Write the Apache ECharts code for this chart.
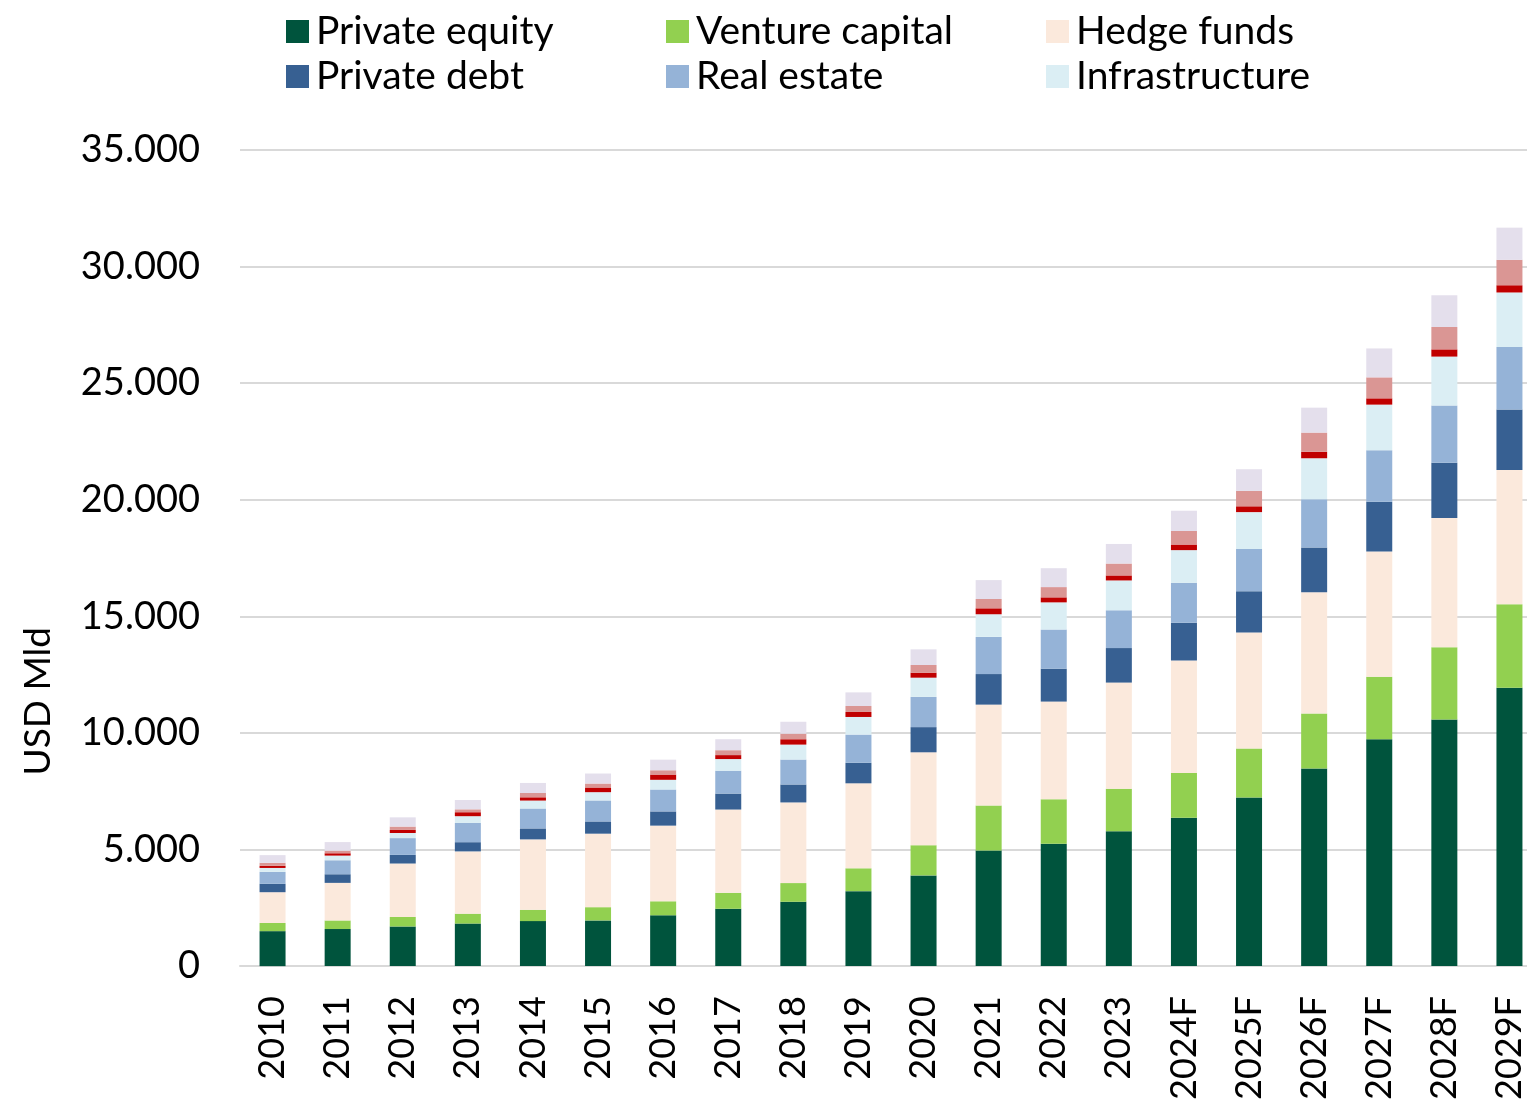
<!DOCTYPE html>
<html>
<head>
<meta charset="utf-8">
<script src="https://cdn.jsdelivr.net/npm/echarts@6/dist/echarts.min.js"></script>
<style>
  html, body { margin: 0; padding: 0; background: #fff; overflow: hidden; }
  #chart { width: 1545px; height: 1103px; }
</style>
</head>
<body>
<div id="chart"></div>
<script>
// categories
var years = ['2010', '2011', '2012', '2013', '2014', '2015', '2016', '2017', '2018', '2019',
  '2020', '2021', '2022', '2023', '2024F', '2025F', '2026F', '2027F', '2028F', '2029F']

// stacked values (USD Mld), bottom to top
var privateEquity = [1500, 1590, 1700, 1825, 1930, 1960, 2180, 2460, 2760, 3215, 3890, 4955, 5250, 5780, 6360, 7230, 8480, 9730, 10580, 11940]
var ventureCapital = [350, 370, 410, 425, 485, 570, 600, 685, 800, 980, 1295, 1935, 1910, 1825, 1920, 2100, 2350, 2680, 3090, 3580]
var hedgeFunds = [1320, 1610, 2290, 2670, 3020, 3150, 3245, 3570, 3460, 3645, 3985, 4325, 4185, 4555, 4830, 4980, 5200, 5370, 5550, 5760]
var privateDebt = [360, 370, 370, 395, 470, 525, 610, 685, 770, 880, 1080, 1310, 1410, 1480, 1620, 1770, 1920, 2140, 2370, 2590]
var realEstate = [510, 600, 720, 825, 855, 900, 940, 980, 1070, 1210, 1295, 1595, 1680, 1620, 1710, 1810, 2070, 2200, 2450, 2680]
var infrastructure = [170, 200, 220, 290, 340, 355, 415, 500, 640, 755, 825, 970, 1165, 1280, 1400, 1580, 1760, 1960, 2100, 2340]
// three top segments without a legend entry
var otherA = [90, 100, 130, 170, 140, 200, 225, 170, 230, 215, 215, 255, 215, 215, 240, 250, 280, 270, 310, 310]
var otherB = [130, 110, 145, 125, 185, 170, 185, 210, 240, 255, 330, 400, 440, 510, 580, 660, 820, 900, 960, 1090]
var otherC = [330, 370, 395, 400, 430, 430, 455, 470, 510, 585, 670, 810, 810, 840, 870, 930, 1070, 1240, 1360, 1380]

var yTicks = [0, 5000, 10000, 15000, 20000, 25000, 30000, 35000]

var fontName = 'Lato'
var colors = ['#00543d', '#92d050', '#fbe9dc', '#376092', '#95b3d7', '#dbeef4', '#c00000', '#da9694', '#e4dfec']

function fmt(v) {
  return String(v).replace(/\B(?=(\d{3})+(?!\d))/g, '.')
}

var chart = echarts.init(document.getElementById('chart'))

function bar(name, data, color) {
  return {
    name: name,
    type: 'bar',
    stack: 'total',
    barWidth: 26,
    data: data,
    itemStyle: { color: color },
    emphasis: { disabled: true },
  }
}

// one legend per slot, to keep the three columns aligned
var legendSlots = [
  ['Private equity', 281, 7],
  ['Venture capital', 661, 7],
  ['Hedge funds', 1041, 7],
  ['Private debt', 281, 52],
  ['Real estate', 661, 52],
  ['Infrastructure', 1041, 52],
]

var option = {
  animation: false,
  color: colors,
  textStyle: { fontFamily: fontName },
  legend: legendSlots.map(function (s) {
    return {
      data: [s[0]],
      left: s[1],
      top: s[2],
      icon: 'rect',
      itemWidth: 23,
      itemHeight: 23,
      itemGap: 0,
      selectedMode: false,
      textStyle: { fontFamily: fontName, fontSize: 39, color: '#000', padding: [0, 0, 0, 2] },
    }
  }),
  grid: {
    left: 240,
    top: 150,
    width: 1302,
    height: 819,
    containLabel: false,
  },
  xAxis: {
    type: 'category',
    data: years,
    axisLine: { show: true, lineStyle: { color: '#d9d9d9', width: 2 } },
    axisTick: { show: false },
    axisLabel: {
      rotate: 90,
      margin: 30,
      color: '#000',
      fontFamily: fontName,
      fontSize: 36,
    },
  },
  yAxis: {
    type: 'value',
    min: yTicks[0],
    max: yTicks[yTicks.length - 1],
    interval: 5000,
    axisLine: { show: false },
    axisTick: { show: false },
    splitLine: { lineStyle: { color: '#d9d9d9', width: 2 } },
    axisLabel: {
      margin: 40,
      color: '#000',
      fontFamily: fontName,
      fontSize: 38,
      formatter: fmt,
    },
  },
  graphic: [
    {
      type: 'text',
      left: 20,
      top: 627,
      rotation: Math.PI / 2,
      style: {
        text: 'USD Mld',
        fontFamily: fontName,
        fontSize: 37,
        fill: '#000',
      },
    },
  ],
  series: [
    bar('Private equity', privateEquity, colors[0]),
    bar('Venture capital', ventureCapital, colors[1]),
    bar('Hedge funds', hedgeFunds, colors[2]),
    bar('Private debt', privateDebt, colors[3]),
    bar('Real estate', realEstate, colors[4]),
    bar('Infrastructure', infrastructure, colors[5]),
    bar('Other A', otherA, colors[6]),
    bar('Other B', otherB, colors[7]),
    bar('Other C', otherC, colors[8]),
  ],
}

chart.setOption(option)
</script>
</body>
</html>
